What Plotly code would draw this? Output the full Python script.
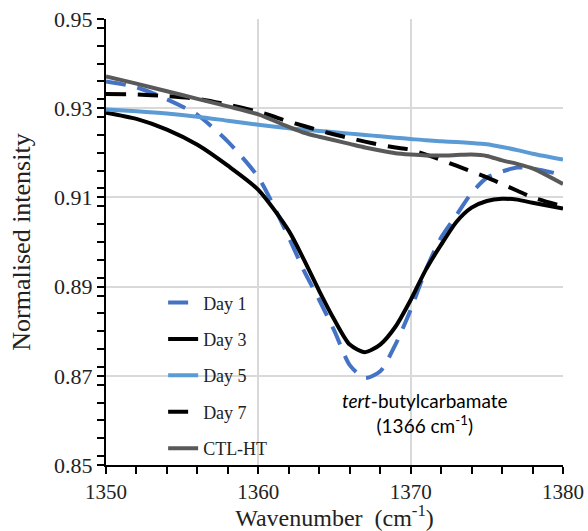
import plotly.graph_objects as go

wavenumber = [1350, 1352, 1354, 1356, 1358, 1360, 1362, 1363, 1364, 1365, 1366, 1367, 1368,
              1369, 1370, 1371, 1372, 1373, 1374, 1375, 1376, 1377, 1378, 1380]

day1 = [0.9360, 0.9347, 0.9320, 0.9285, 0.9225, 0.9145, 0.9010, 0.8935, 0.8870, 0.8800,
        0.8724, 0.8695, 0.8710, 0.8770, 0.8848, 0.8938, 0.9010, 0.9060, 0.9110, 0.9144,
        0.9158, 0.9167, 0.9165, 0.9150]
day3 = [0.9290, 0.9276, 0.9252, 0.9218, 0.9171, 0.9117, 0.9025, 0.8960, 0.8890, 0.8825,
        0.8770, 0.8753, 0.8770, 0.8810, 0.8870, 0.8938, 0.8994, 0.9045, 0.9077, 0.9092,
        0.9097, 0.9095, 0.9088, 0.9075]
day5 = [0.9297, 0.9293, 0.9288, 0.9281, 0.9272, 0.9263, 0.9255, 0.9252, 0.9249, 0.9246,
        0.9243, 0.9240, 0.9237, 0.9234, 0.9231, 0.9228, 0.9226, 0.9224, 0.9222, 0.9219,
        0.9213, 0.9206, 0.9198, 0.9185]
day7 = [0.9332, 0.9331, 0.9327, 0.9321, 0.9308, 0.9292, 0.9270, 0.9260, 0.9250, 0.9241,
        0.9233, 0.9225, 0.9218, 0.9212, 0.9207, 0.9196, 0.9184, 0.9171, 0.9158, 0.9145,
        0.9130, 0.9115, 0.9100, 0.9080]
ctl_ht = [0.9371, 0.9355, 0.9338, 0.9321, 0.9304, 0.9286, 0.9258, 0.9245, 0.9236, 0.9228,
          0.9220, 0.9212, 0.9205, 0.9199, 0.9196, 0.9194, 0.9194, 0.9195, 0.9196, 0.9193,
          0.9183, 0.9175, 0.9165, 0.9130]

series = [
    ("Day 1", day1, "#4472C4", "20px,12px"),
    ("Day 3", day3, "#000000", "solid"),
    ("Day 5", day5, "#5B9BD5", "solid"),
    ("Day 7", day7, "#000000", "20px,12px"),
    ("CTL-HT", ctl_ht, "#595959", "solid"),
]

fig = go.Figure()
for name, vals, color, dash in series:
    fig.add_trace(go.Scatter(
        x=wavenumber, y=vals, name=name, mode="lines",
        line=dict(color=color, width=4, dash=dash, shape="spline", smoothing=0.7),
        legendgroup=name,
    ))

serif = "Liberation Serif, Times New Roman, serif"

fig.update_layout(
    width=588, height=531,
    margin=dict(l=106, r=25, t=19, b=66),
    plot_bgcolor="white", paper_bgcolor="white",
    font=dict(family=serif, size=22, color="#222"),
    showlegend=True,
    legend=dict(
        x=0.125, y=0.405, xanchor="left", yanchor="top",
        bgcolor="rgba(0,0,0,0)", font=dict(family=serif, size=18, color="#222"),
        tracegroupgap=10, traceorder="grouped",
    ),
    xaxis=dict(
        range=[1350, 1380], dtick=10, tick0=1350, automargin=False,
        showgrid=True, gridcolor="#d9d9d9", gridwidth=2,
        showline=True, linecolor="black", linewidth=2,
        ticks="outside", ticklen=7, tickwidth=2, tickcolor="black",
        minor=dict(dtick=2, ticks="outside", ticklen=7, tickwidth=2, tickcolor="black", showgrid=False),
        title=dict(text="Wavenumber  (cm<sup>-1</sup>)", font=dict(family=serif, size=24), standoff=6),
        zeroline=False, tickfont=dict(family=serif, size=21),
    ),
    yaxis=dict(
        range=[0.85, 0.95], dtick=0.02, tick0=0.85, tickformat=".2f", automargin=False,
        showgrid=True, gridcolor="#d9d9d9", gridwidth=2,
        showline=True, linecolor="black", linewidth=2,
        ticks="outside", ticklen=7, tickwidth=2, tickcolor="black",
        minor=dict(dtick=0.004, ticks="outside", ticklen=7, tickwidth=2, tickcolor="black", showgrid=False),
        title=dict(text="Normalised intensity", font=dict(family=serif, size=26), standoff=16),
        zeroline=False, tickfont=dict(family=serif, size=22),
    ),
)

fig.add_annotation(
    x=1370.95, y=0.8676, xref="x", yref="y",
    text="<i>tert</i>-butylcarbamate<br>(1366 cm<sup>-1</sup>)",
    showarrow=False, align="center", yanchor="top",
    font=dict(family="Lato, Open Sans, sans-serif", size=19, color="black"),
)

fig.write_html("out.html")
